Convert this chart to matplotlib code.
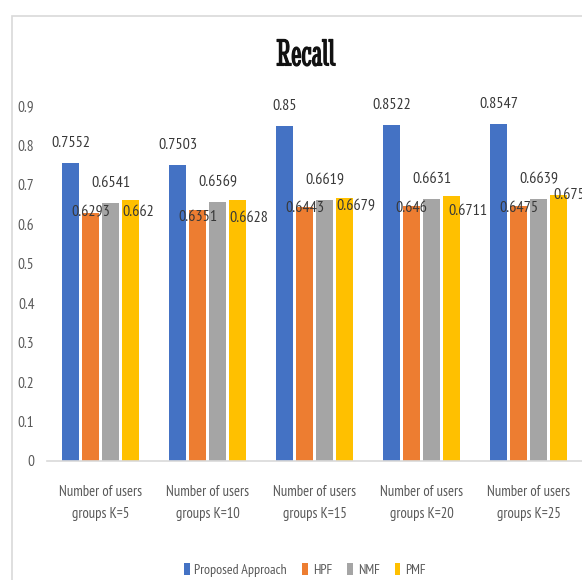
import numpy as np
import matplotlib
matplotlib.use('Agg')
import matplotlib.pyplot as plt
import matplotlib.patheffects as pe
from matplotlib.patches import Rectangle

plt.rcParams['font.family'] = ['PT Sans Narrow', 'DejaVu Sans']

groups = ['Number of users\ngroups K=5', 'Number of users\ngroups K=10',
          'Number of users\ngroups K=15', 'Number of users\ngroups K=20',
          'Number of users\ngroups K=25']
series = ['Proposed Approach', 'HPF', 'NMF', 'PMF']
proposed = [0.7552, 0.7503, 0.85, 0.8522, 0.8547]
hpf = [0.6293, 0.6351, 0.6443, 0.646, 0.6475]
nmf = [0.6541, 0.6569, 0.6619, 0.6631, 0.6639]
pmf = [0.662, 0.6628, 0.6679, 0.6711, 0.6751]
colors = ['#4472C4', '#ED7D31', '#A5A5A5', '#FFC000']
yticks = [0, 0.1, 0.2, 0.3, 0.4, 0.5, 0.6, 0.7, 0.8, 0.9]

# label nudges in pixels (x, y) for the crowded orange/yellow labels
hpf_nudge = [0, -7, -1, -2, -2]
pmf_nudge = [(0, -12), (0, -18), (0, -9), (5, -15), (3, 0)]

W, H = 582, 580
fig = plt.figure(figsize=(W / 100, H / 100), dpi=100)
fig.patches.append(Rectangle((12 / W, -0.05), 1.2, 1.05 - 16 / H,
                             transform=fig.transFigure, fill=False,
                             edgecolor='#d9d9d9', lw=1.2))

ax = fig.add_axes([47 / W, (H - 461) / H, (W - 47) / W, (461 - 106) / H])
x = np.arange(len(groups))
bw = 0.15
step = 0.187
data = [proposed, hpf, nmf, pmf]
bars = []
for j, vals in enumerate(data):
    b = ax.bar(x + (j - 1.5) * step, vals, bw, color=colors[j], label=series[j], zorder=2)
    bars.append(b)

lab = dict(fontsize=11.5, color='#383838')
for i in range(len(groups)):
    for j in (0, 2):
        ax.annotate(f'{data[j][i]:g}', (x[i] + (j - 1.5) * step, data[j][i]),
                    xytext=(0, 20), textcoords='offset pixels',
                    ha='center', va='center', **lab)
    ax.annotate(f'{hpf[i]:g}', (x[i] - 0.5 * step, hpf[i]),
                xytext=(0, hpf_nudge[i]), textcoords='offset pixels',
                ha='center', va='center', **lab)
    ax.annotate(f'{pmf[i]:g}', (x[i] + 1.5 * step - bw / 2, pmf[i]),
                xytext=pmf_nudge[i], textcoords='offset pixels',
                ha='left', va='center', annotation_clip=False, **lab)

ax.set_xlim(-0.5, 4.5)
ax.set_ylim(0, 0.9)
ax.set_yticks(yticks)
ax.set_yticklabels([f'{t:g}' for t in yticks], fontsize=11, color='#595959')
ax.set_xticks(x)
ax.set_xticklabels(groups, fontsize=10.5, color='#595959', linespacing=1.75)
ax.tick_params(axis='both', length=0)
ax.tick_params(axis='x', pad=17)
ax.tick_params(axis='y', pad=9)
for s in ['top', 'right', 'left']:
    ax.spines[s].set_visible(False)
ax.spines['bottom'].set_color('#d9d9d9')
ax.spines['bottom'].set_linewidth(1.2)

# condensed serif title, lightly stroked to thicken it
fig.text(306 / W, 1 - 56 / H, 'Recall', ha='center', va='center',
         family='Stint Ultra Condensed', fontsize=28, color='#111111',
         path_effects=[pe.withStroke(linewidth=0.8, foreground='#111111')])

leg = fig.legend(handles=bars, labels=series, loc='center', ncol=4,
                 bbox_to_anchor=(305 / W, 1 - 570 / H), frameon=False,
                 fontsize=10, handlelength=0.4, handleheight=0.9,
                 handletextpad=0.35, columnspacing=1.1, labelcolor='#595959')

fig.savefig('out.png', dpi=100)
